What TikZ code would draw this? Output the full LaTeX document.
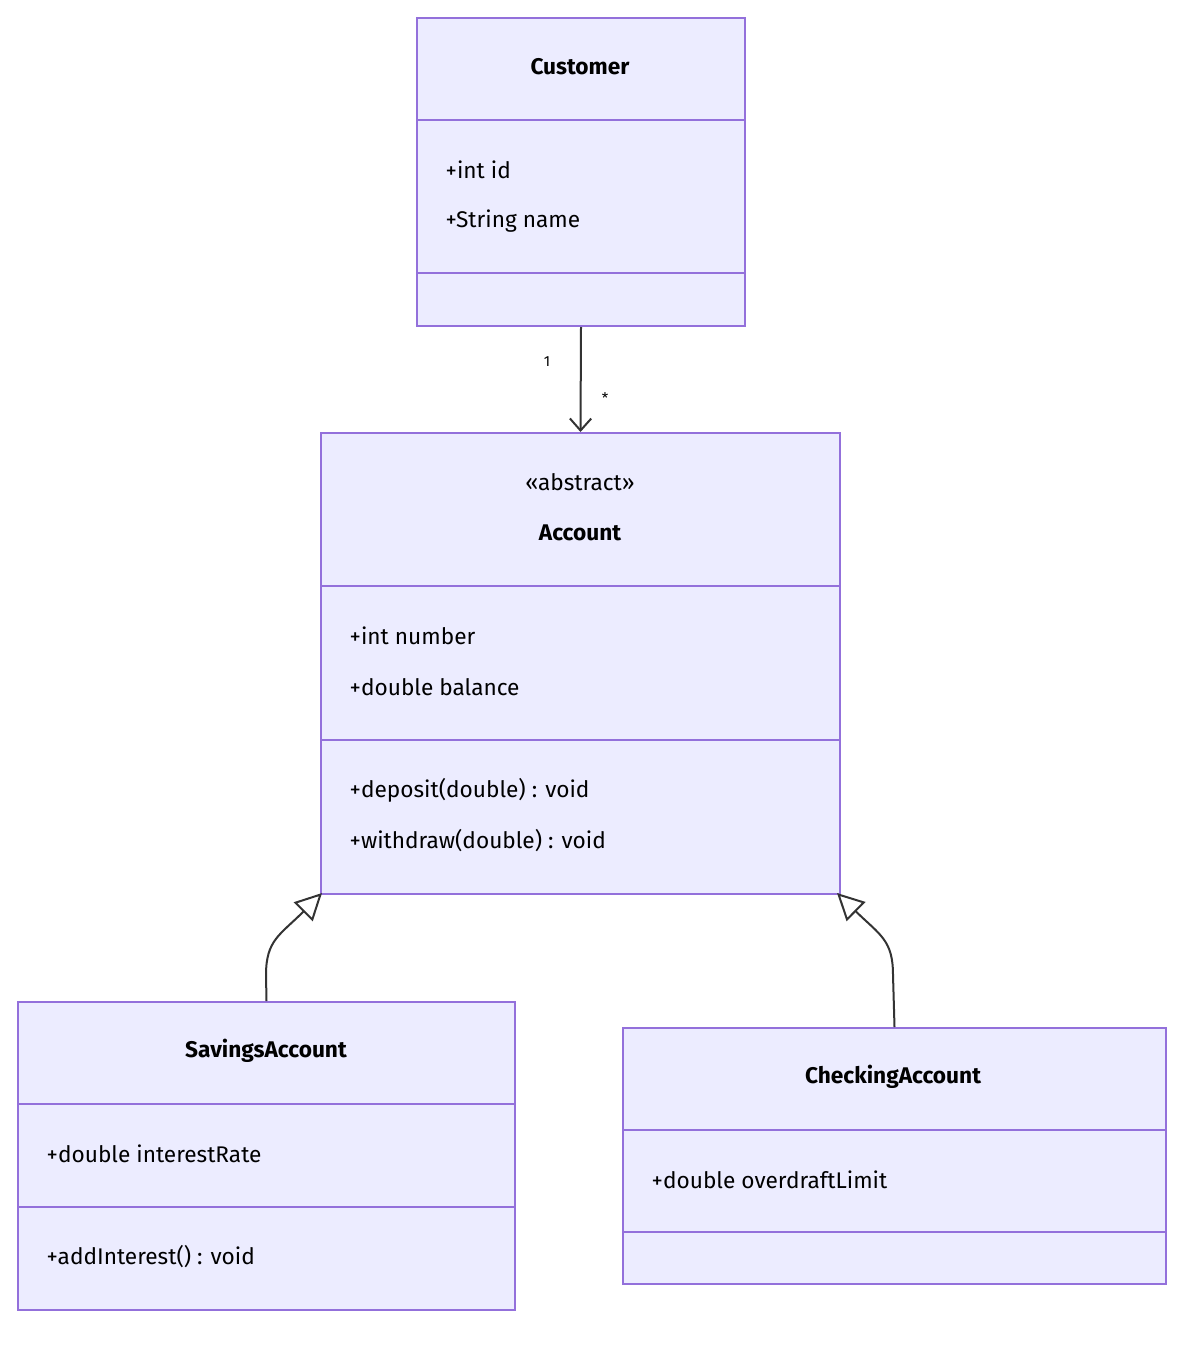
\documentclass[tikz,border=0pt]{standalone}
\usepackage{fontspec}
\setmainfont{Fira Sans}
\usetikzlibrary{arrows.meta,calc}
\definecolor{boxfill}{HTML}{ECECFF}
\definecolor{boxline}{HTML}{9370DB}
\definecolor{ink}{HTML}{333333}
\begin{document}
\begin{tikzpicture}[x=0.75pt,y=-0.75pt,
    box/.style={draw=boxline,fill=boxfill,line width=1.5pt,inner sep=0pt,anchor=north west},
    sep/.style={draw=boxline,line width=1.5pt},
    title/.style={font=\fontsize{17}{20}\selectfont\bfseries,text=black},
    member/.style={font=\fontsize{17}{20}\selectfont,text=black,anchor=west},
    edge/.style={draw=ink,line width=1.5pt}]
  \useasboundingbox (0,0) rectangle (1200,1345);
  % Customer
  \node[box,minimum width=328*0.75pt,minimum height=308*0.75pt] (cust) at (416,17) {};
  \draw[sep] (416,120) -- (744,120) (416,273) -- (744,273);
  \node[title] (custname) at (580,67) {Customer};
  \node[member] (custid) at (441,170) {+int id};
  \node[member] (custnm) at (441,221) {+String name};
  % Account
  \node[box,minimum width=519*0.75pt,minimum height=461*0.75pt] (acct) at (320,432) {};
  \draw[sep] (320,586) -- (839,586) (320,740) -- (839,740);
  \node[font=\fontsize{17}{20}\selectfont,text=black] (acctst) at (580,482) {«abstract»};
  \node[title] (acctname) at (580,533) {Account};
  \node[member] (acctnum) at (345,636) {+int number};
  \node[member] (acctbal) at (345,687) {+double balance};
  \node[member] (acctdep) at (345,790) {+deposit(double) : void};
  \node[member] (acctwd) at (345,841) {+withdraw(double) : void};
  % SavingsAccount
  \node[box,minimum width=497*0.75pt,minimum height=308*0.75pt] (sav) at (17,1001) {};
  \draw[sep] (17,1104) -- (514,1104) (17,1207) -- (514,1207);
  \node[title] (savname) at (266,1051) {SavingsAccount};
  \node[member] (savrate) at (42,1154) {+double interestRate};
  \node[member] (savadd) at (42,1257) {+addInterest() : void};
  % CheckingAccount
  \node[box,minimum width=543*0.75pt,minimum height=256*0.75pt] (chk) at (622,1027) {};
  \draw[sep] (622,1130) -- (1165,1130) (622,1232) -- (1165,1232);
  \node[title] (chkname) at (893,1077) {CheckingAccount};
  \node[member] (chklim) at (647,1180) {+double overdraftLimit};
  % connectors
  \coordinate (savtip) at (322,893);
  \coordinate (chktip) at (837,893);
  \draw[edge,-{Straight Barb[length=9pt,width=16pt]}] (cust.south) -- (acct.north);
  \node[font=\fontsize{11}{13}\selectfont,text=black] (one) at (547,362) {1};
  \node[font=\fontsize{11}{13}\selectfont,text=black] (many) at (605,398) {*};
  \draw[edge,-{Triangle[open,length=20pt,width=20pt]}] (sav.north) -- (266,975) .. controls (266,940) and (280,935) .. (savtip);
  \draw[edge,-{Triangle[open,length=20pt,width=20pt]}] (chk.north) -- (893,975) .. controls (893,940) and (880,935) .. (chktip);
\end{tikzpicture}
\end{document}
